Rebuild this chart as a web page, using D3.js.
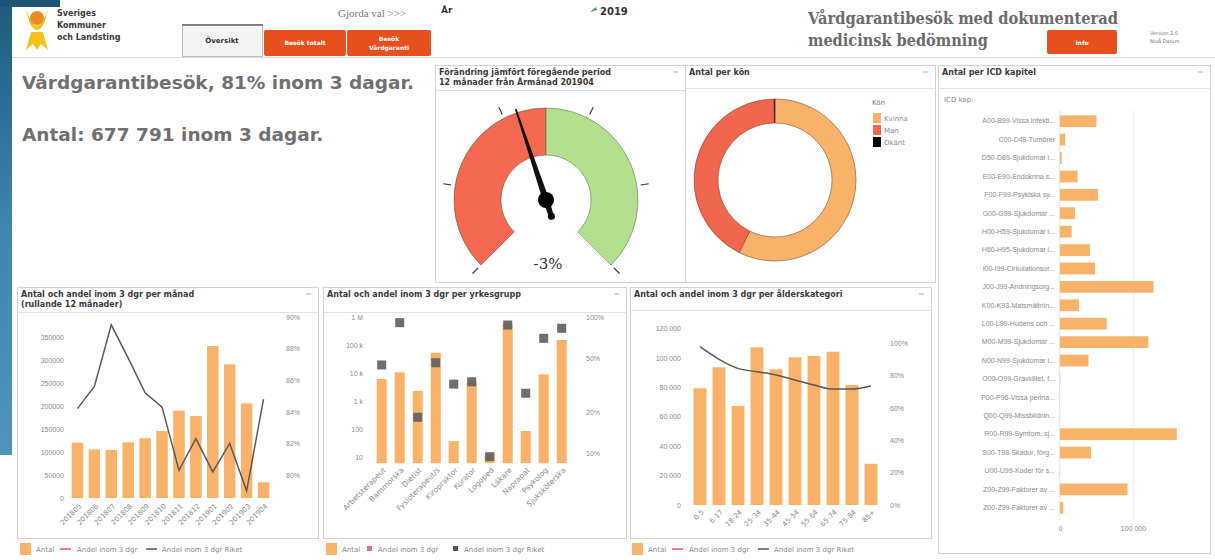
<!DOCTYPE html>
<html>
<head>
<meta charset="utf-8">
<script src="https://cdn.jsdelivr.net/npm/d3@7"></script>
<style>
body { margin: 0; background: #fff; }
svg { display: block; font-family: "DejaVu Sans", sans-serif; }
.axis text { fill: #8a8a8a; font-size: 7px; }
.ptitle { fill: #3a3a3a; font-size: 8px; font-weight: bold; }
.leg { fill: #8a8a8a; font-size: 7px; }
</style>
</head>
<body>
<svg id="svg" width="1215" height="560"></svg>
<script>
// ---- data ----
const monthLabels = ["201805", "201806", "201807", "201808", "201809", "201810", "201811", "201812", "201901", "201902", "201903", "201904"];
const monthAntal = [120200, 105800, 104300, 121000, 129800, 145600, 189800, 178300, 330400, 290600, 205800, 34100];
const monthAndelRiket = [84.2, 85.6, 89.5, 87.4, 85.2, 84.3, 80.3, 82.3, 80.2, 82.0, 79.0, 84.8];
const monthLeftTicks = [0, 50000, 100000, 150000, 200000, 250000, 300000, 350000];
const monthRightTicks = [80, 82, 84, 86, 88, 90];

const yrkeLabels = ["Arbetsterapeut", "Barnmorska", "Dietist", "Fysioterapeut/s", "Kiropraktor", "Kurator", "Logoped", "Läkare", "Naprapat", "Psykolog", "Sjuksköterska"];
const yrkeAntal = [6100, 10600, 2280, 53000, 37, 4900, 13, 550000, 85, 8900, 150000];
const yrkeAndelRiket = [44.4, 90.8, 18.3, 46.1, 32.1, 33.4, 9.4, 87.3, 27.5, 69.7, 82.6];
const yrkeLeftTicks = [10, 100, 1000, 10000, 100000, 1000000];
const yrkeLeftTickLabels = ["10", "100", "1 k", "10 k", "100 k", "1 M"];
const yrkeRightTicks = [10, 20, 50, 100];

const aldLabels = ["0-5", "6-17", "18-24", "25-34", "35-44", "45-54", "55-64", "65-74", "75-84", "85+"];
const aldAntal = [79250, 93500, 67200, 107100, 92200, 100300, 101200, 104100, 81500, 28000];
const aldAndelRiket = [97.9, 90.1, 84.5, 82.4, 80.4, 77.3, 74.2, 71.7, 71.7, 73.6];
const aldLeftTicks = [0, 20000, 40000, 60000, 80000, 100000, 120000];
const aldRightTicks = [0, 20, 40, 60, 80, 100];

const icdLabels = ["A00-B99-Vissa infekti...", "C00-D48-Tumörer", "D50-D89-Sjukdomar i...", "E00-E90-Endokrina s...", "F00-F99-Psykiska sy...", "G00-G99-Sjukdomar ...", "H00-H59-Sjukdomar i...", "H60-H95-Sjukdomar i...", "I00-I99-Cirkulationsor...", "J00-J99-Andningsorg...", "K00-K93-Matsmältnin...", "L00-L99-Hudens och ...", "M00-M99-Sjukdomar ...", "N00-N99-Sjukdomar i...", "O00-O99-Graviditet, f...", "P00-P96-Vissa perina...", "Q00-Q99-Missbildnin...", "R00-R99-Symtom, sj...", "S00-T98-Skador, förg...", "U00-U99-Koder för s...", "Z00-Z99-Faktorer av ...", "Z00-Z99-Faktorer av ..."];
const icdAntal = [50000, 7000, 2500, 24000, 52000, 20500, 16000, 41000, 48000, 128000, 26000, 64000, 121000, 39000, 500, 200, 300, 160000, 42500, 300, 92500, 4500];
const icdTicks = [0, 100000];

const konLabels = ["Kvinna", "Man", "Okänt"];
const konAndel = [57.3, 42.5, 0.2];

const gaugeValue = -3;
const gaugeMin = -22, gaugeMax = 22;

const orange = "#F8B26A";
const sv = d3.formatLocale({ decimal: ",", thousands: " ", grouping: [3], currency: ["", " kr"] });

let svg = d3.select("#svg");

// ---- background strip + header ----
let grad = svg.append("defs").append("linearGradient").attr("id", "blue").attr("x1", 0).attr("y1", 0).attr("x2", 0).attr("y2", 1);
grad.append("stop").attr("offset", "0%").attr("stop-color", "#1f5b7d");
grad.append("stop").attr("offset", "50%").attr("stop-color", "#3d86ad");
grad.append("stop").attr("offset", "100%").attr("stop-color", "#4f95bb");
svg.append("rect").attr("x", 0).attr("y", 0).attr("width", 12).attr("height", 455).attr("fill", "url(#blue)");
svg.append("rect").attr("x", 0).attr("y", 0).attr("width", 60).attr("height", 7).attr("fill", "#1d5576");

// logo
svg.append("path").attr("d", "M26 9 Q37 42 48 9 Q44 30 37 30 Q30 30 26 9Z").attr("fill", "#F5C21B");
svg.append("circle").attr("cx", 37).attr("cy", 18).attr("r", 7).attr("fill", "#EE8A22");
svg.append("path").attr("d", "M31 32 L43 32 L48 50 L41 44 L37 50 L33 44 L26 50Z").attr("fill", "#F5C21B");
["Sveriges", "Kommuner", "och Landsting"].forEach((t, i) => {
    svg.append("text").attr("x", 57).attr("y", 16 + i * 12).style("font-size", "8px").style("fill", "#3a3a3a").style("font-weight", "bold").text(t);
});

// tabs
svg.append("rect").attr("x", 182.5).attr("y", 24.5).attr("width", 80).attr("height", 32).attr("fill", "#f4f4f4").attr("stroke", "#bcbcbc");
svg.append("line").attr("x1", 182).attr("x2", 263).attr("y1", 25).attr("y2", 25).attr("stroke", "#666").attr("stroke-width", 1.5);
svg.append("text").attr("x", 222).attr("y", 43).attr("text-anchor", "middle").style("font-size", "7px").style("font-weight", "bold").style("fill", "#333").text("Översikt");
svg.append("rect").attr("x", 264).attr("y", 30).attr("width", 82).attr("height", 26).attr("rx", 2).attr("fill", "#E5501C");
svg.append("text").attr("x", 305).attr("y", 45).attr("text-anchor", "middle").style("font-size", "6px").style("font-weight", "bold").style("fill", "#fff").text("Besök totalt");
svg.append("rect").attr("x", 347).attr("y", 30).attr("width", 84).attr("height", 26).attr("rx", 2).attr("fill", "#E5501C");
svg.append("text").attr("x", 389).attr("y", 41).attr("text-anchor", "middle").style("font-size", "6px").style("font-weight", "bold").style("fill", "#fff").text("Besök");
svg.append("text").attr("x", 389).attr("y", 50).attr("text-anchor", "middle").style("font-size", "6px").style("font-weight", "bold").style("fill", "#fff").text("Vårdgaranti");

svg.append("text").attr("x", 338).attr("y", 17).style("font-family", "'Liberation Serif', serif").style("font-size", "11px").style("fill", "#777").text("Gjorda val >>>");
svg.append("text").attr("x", 441).attr("y", 13).style("font-size", "9px").style("font-weight", "bold").style("fill", "#333").text("År");
svg.append("path").attr("d", "M590 12 L596 7 L597 10Z").attr("fill", "#3aa64a");
svg.append("text").attr("x", 600).attr("y", 15).style("font-size", "10px").style("font-weight", "bold").style("fill", "#333").text("2019");

svg.append("text").attr("x", 808).attr("y", 24).attr("textLength", 310).attr("lengthAdjust", "spacingAndGlyphs")
    .style("font-family", "'DejaVu Serif', serif").style("font-size", "16px").style("font-weight", "bold").style("fill", "#6b6b6b").text("Vårdgarantibesök med dokumenterad");
svg.append("text").attr("x", 808).attr("y", 46).attr("textLength", 180).attr("lengthAdjust", "spacingAndGlyphs")
    .style("font-family", "'DejaVu Serif', serif").style("font-size", "16px").style("font-weight", "bold").style("fill", "#6b6b6b").text("medicinsk bedömning");
svg.append("rect").attr("x", 1047).attr("y", 30).attr("width", 70).attr("height", 24).attr("rx", 2).attr("fill", "#E5501C");
svg.append("text").attr("x", 1082).attr("y", 45).attr("text-anchor", "middle").style("font-size", "6px").style("font-weight", "bold").style("fill", "#fff").text("Info");
svg.append("text").attr("x", 1150).attr("y", 35).style("font-size", "5px").style("fill", "#777").text("Version 2.0");
svg.append("text").attr("x", 1150).attr("y", 43).style("font-size", "5px").style("fill", "#777").text("Nivå Datum");
svg.append("line").attr("x1", 12).attr("x2", 1215).attr("y1", 57.5).attr("y2", 57.5).attr("stroke", "#dcdcdc");

// key figures
svg.append("text").attr("x", 22).attr("y", 89).style("font-size", "18.5px").style("font-weight", "bold").style("fill", "#707070").text("Vårdgarantibesök, 81% inom 3 dagar.");
svg.append("text").attr("x", 22).attr("y", 141).style("font-size", "18.5px").style("font-weight", "bold").style("fill", "#707070").text("Antal: 677 791 inom 3 dagar.");

// ---- panel helper ----
function panel(x, y, w, h, titles, titleH) {
    let g = svg.append("g");
    g.append("rect").attr("x", x + 0.5).attr("y", y + 0.5).attr("width", w).attr("height", h).attr("fill", "#fff").attr("stroke", "#d2d2d2");
    g.append("line").attr("x1", x + 1).attr("x2", x + w).attr("y1", y + titleH + 0.5).attr("y2", y + titleH + 0.5).attr("stroke", "#e2e2e2");
    titles.forEach((t, i) => {
        g.append("text").attr("class", "ptitle").attr("x", x + 4).attr("y", y + 10 + i * 10).text(t);
    });
    g.append("line").attr("x1", x + w - 12).attr("x2", x + w - 7).attr("y1", y + 7).attr("y2", y + 7).attr("stroke", "#aaa");
    return g;
}

function legend(x, kind2) {
    let g = svg.append("g");
    g.append("rect").attr("x", x).attr("y", 543).attr("width", 11).attr("height", 12).attr("fill", orange);
    g.append("text").attr("class", "leg").attr("x", x + 16).attr("y", 552).text("Antal");
    if (kind2 === "line") {
        g.append("line").attr("x1", x + 40).attr("x2", x + 51).attr("y1", 549).attr("y2", 549).attr("stroke", "#e0555a").attr("stroke-width", 1.5);
        g.append("text").attr("class", "leg").attr("x", x + 57).attr("y", 552).text("Andel inom 3 dgr");
        g.append("line").attr("x1", x + 126).attr("x2", x + 137).attr("y1", 549).attr("y2", 549).attr("stroke", "#555").attr("stroke-width", 1.5);
        g.append("text").attr("class", "leg").attr("x", x + 142).attr("y", 552).text("Andel inom 3 dgr Riket");
    } else {
        g.append("rect").attr("x", x + 41).attr("y", 546).attr("width", 5).attr("height", 5).attr("fill", "#e06a8a");
        g.append("text").attr("class", "leg").attr("x", x + 52).attr("y", 552).text("Andel inom 3 dgr");
        g.append("rect").attr("x", x + 127).attr("y", 546).attr("width", 5).attr("height", 5).attr("fill", "#555");
        g.append("text").attr("class", "leg").attr("x", x + 138).attr("y", 552).text("Andel inom 3 dgr Riket");
    }
}

function cleanAxis(sel) {
    sel.select(".domain").remove();
    sel.selectAll(".tick line").remove();
}

// ---- gauge ----
panel(435, 65, 250, 217, ["Förändring jämfört föregående period", "12 månader från Årmånad 201904"], 25);
const gcx = 546, gcy = 200;
const rad = d => d * Math.PI / 180;
const gaugeScale = d3.scaleLinear().domain([gaugeMin, gaugeMax]).range([-135, 135]);
const gArc = d3.arc().innerRadius(45).outerRadius(92);
let gg = svg.append("g").attr("transform", `translate(${gcx},${gcy})`);
gg.append("path").attr("d", gArc({ startAngle: rad(gaugeScale(gaugeMin)), endAngle: rad(gaugeScale(0)) })).attr("fill", "#F4694F").attr("stroke", "#7a4a3a").attr("stroke-width", 0.6);
gg.append("path").attr("d", gArc({ startAngle: rad(gaugeScale(0)), endAngle: rad(gaugeScale(gaugeMax)) })).attr("fill", "#B4DF8E").attr("stroke", "#5d7a4a").attr("stroke-width", 0.6);
d3.range(6).forEach(i => {
    let a = rad(-135 + i * 54);
    gg.append("line").attr("x1", 96 * Math.sin(a)).attr("y1", -96 * Math.cos(a)).attr("x2", 104 * Math.sin(a)).attr("y2", -104 * Math.cos(a))
        .attr("stroke", "#333").attr("stroke-width", 1.2);
});
{
    let a = rad(gaugeScale(gaugeValue));
    let s = Math.sin(a), c = Math.cos(a);
    let pt = (r, off) => [r * s + off * c, -r * c + off * s];
    let pts = [pt(96, -0.8), pt(96, 0.8), pt(0, 3.2), pt(-20, 2.4), pt(-20, -2.4), pt(0, -3.2)];
    gg.append("polygon").attr("points", pts.map(p => p.join(",")).join(" ")).attr("fill", "#111");
    gg.append("circle").attr("cx", 0).attr("cy", 0).attr("r", 8).attr("fill", "#000");
    let t = pt(-17, 0);
    gg.append("circle").attr("cx", t[0]).attr("cy", t[1]).attr("r", 3.5).attr("fill", "#000");
}
svg.append("text").attr("x", gcx + 2).attr("y", 269).attr("text-anchor", "middle").style("font-family", "'DejaVu Serif', serif").style("font-size", "15px").style("fill", "#333").text(gaugeValue + "%");

// ---- donut ----
panel(685, 65, 250, 217, ["Antal per kön"], 23);
const pie = d3.pie().sort(null).value(d => d)(konAndel);
const konColors = [orange, "#F0664F", "#000"];
const dArc = d3.arc().innerRadius(57).outerRadius(81);
let dg = svg.append("g").attr("transform", "translate(775,180)");
dg.selectAll("path").data(pie).join("path").attr("d", dArc).attr("fill", (d, i) => konColors[i]).attr("stroke", "#7a4a2a").attr("stroke-width", 0.6);
svg.append("text").attr("x", 872).attr("y", 105).style("font-size", "7px").style("fill", "#6a7f9a").text("Kön");
konLabels.forEach((k, i) => {
    svg.append("rect").attr("x", 873).attr("y", 113 + i * 12).attr("width", 8).attr("height", 10).attr("fill", konColors[i]);
    svg.append("text").attr("x", 884).attr("y", 121 + i * 12).style("font-size", "7px").style("fill", "#8a8a8a").text(k);
});

// ---- ICD ----
panel(938, 65, 272, 488, ["Antal per ICD kapitel"], 23);
svg.append("text").attr("x", 944).attr("y", 102).style("font-size", "7px").style("fill", "#8a8a8a").text("ICD kap.");
const icdIdx = d3.range(icdLabels.length);
const icdY = d3.scaleBand().domain(icdIdx).range([112, 517]).paddingInner(0.36).paddingOuter(0.18);
const icdX = d3.scaleLinear().domain([0, 100000]).range([1060, 1133]);
svg.append("line").attr("x1", icdX(100000) + 0.5).attr("x2", icdX(100000) + 0.5).attr("y1", 110).attr("y2", 520).attr("stroke", "#eeeeee");
svg.append("line").attr("x1", icdX(0) - 0.5).attr("x2", icdX(0) - 0.5).attr("y1", 110).attr("y2", 520).attr("stroke", "#e6e6e6");
svg.append("g").selectAll("rect").data(icdAntal).join("rect")
    .attr("x", icdX(0)).attr("y", (d, i) => icdY(i))
    .attr("width", d => icdX(d) - icdX(0)).attr("height", icdY.bandwidth()).attr("fill", orange);
let icdAxisY = svg.append("g").attr("class", "axis").attr("transform", `translate(${icdX(0) - 3},0)`)
    .call(d3.axisLeft(icdY).tickSize(0).tickPadding(2).tickFormat(i => icdLabels[i]));
cleanAxis(icdAxisY);
let icdAxisX = svg.append("g").attr("class", "axis").attr("transform", "translate(0,522)")
    .call(d3.axisBottom(icdX).tickValues(icdTicks).tickSize(0).tickPadding(4).tickFormat(sv.format(",")));
cleanAxis(icdAxisX);

// ---- per month ----
panel(17, 287, 301, 251, ["Antal och andel inom 3 dgr per månad", "(rullande 12 månader)"], 25);
const mX = d3.scaleBand().domain(monthLabels).range([69, 272]).paddingInner(0.32).paddingOuter(0.16);
const mY = d3.scaleLinear().domain([0, 350000]).range([498, 337]);
const mY2 = d3.scaleLinear().domain([80, 90]).range([475, 317]);
svg.append("g").selectAll("rect").data(monthAntal).join("rect")
    .attr("x", (d, i) => mX(monthLabels[i])).attr("y", d => mY(d))
    .attr("width", mX.bandwidth()).attr("height", d => mY(0) - mY(d)).attr("fill", orange);
svg.append("path").datum(monthAndelRiket)
    .attr("d", d3.line().x((d, i) => mX(monthLabels[i]) + mX.bandwidth() / 2).y(d => mY2(d)))
    .attr("fill", "none").attr("stroke", "#5a5a5a").attr("stroke-width", 1.5);
let mAxL = svg.append("g").attr("class", "axis").attr("transform", "translate(66,0)")
    .call(d3.axisLeft(mY).tickValues(monthLeftTicks).tickSize(0).tickPadding(2).tickFormat(d3.format("d")));
cleanAxis(mAxL);
let mAxR = svg.append("g").attr("class", "axis").attr("transform", "translate(284,0)")
    .call(d3.axisRight(mY2).tickValues(monthRightTicks).tickSize(0).tickPadding(2).tickFormat(d => d + "%"));
cleanAxis(mAxR);
svg.append("g").attr("class", "axis").selectAll("text").data(monthLabels).join("text")
    .attr("transform", d => `translate(${mX(d) + mX.bandwidth() / 2 + 3},${505}) rotate(-45)`)
    .attr("text-anchor", "end").attr("dy", "0.3em").text(d => d);
legend(20, "line");

// ---- per yrkesgrupp ----
panel(323, 287, 303, 251, ["Antal och andel inom 3 dgr per yrkesgrupp"], 25);
const yX = d3.scaleBand().domain(yrkeLabels).range([372.7, 570.7]).paddingInner(0.44).paddingOuter(0.22);
const yY = d3.scaleLog().domain([10, 1000000]).range([457, 317]);
const yY2 = d3.scaleLog().domain([10, 100]).range([453, 317]);
const yBase = 6;
svg.append("g").selectAll("rect").data(yrkeAntal).join("rect")
    .attr("x", (d, i) => yX(yrkeLabels[i])).attr("y", d => yY(d))
    .attr("width", yX.bandwidth()).attr("height", d => yY(yBase) - yY(d)).attr("fill", orange);
svg.append("g").selectAll("rect").data(yrkeAndelRiket).join("rect")
    .attr("x", (d, i) => yX(yrkeLabels[i]) + yX.bandwidth() / 2 - 4.5).attr("y", d => yY2(d) - 4.5)
    .attr("width", 9).attr("height", 9).attr("fill", "#5e5e5e").attr("opacity", 0.9);
let yAxL = svg.append("g").attr("class", "axis").attr("transform", "translate(365,0)")
    .call(d3.axisLeft(yY).tickValues(yrkeLeftTicks).tickSize(0).tickPadding(2).tickFormat((d, i) => yrkeLeftTickLabels[i]));
cleanAxis(yAxL);
let yAxR = svg.append("g").attr("class", "axis").attr("transform", "translate(584,0)")
    .call(d3.axisRight(yY2).tickValues(yrkeRightTicks).tickSize(0).tickPadding(2).tickFormat(d => d + "%"));
cleanAxis(yAxR);
svg.append("g").attr("class", "axis").selectAll("text").data(yrkeLabels).join("text")
    .attr("transform", d => `translate(${yX(d) + yX.bandwidth() / 2 + 3},${469}) rotate(-45)`)
    .attr("text-anchor", "end").attr("dy", "0.3em").style("font-size", "7.5px").text(d => d);
legend(326, "square");

// ---- per ålderskategori ----
panel(630, 287, 301, 251, ["Antal och andel inom 3 dgr per ålderskategori"], 23);
const aX = d3.scaleBand().domain(aldLabels).range([690.5, 880.5]).paddingInner(0.32).paddingOuter(0.16);
const aY = d3.scaleLinear().domain([0, 120000]).range([505, 328.3]);
const aY2 = d3.scaleLinear().domain([0, 100]).range([505, 343.3]);
svg.append("g").selectAll("rect").data(aldAntal).join("rect")
    .attr("x", (d, i) => aX(aldLabels[i])).attr("y", d => aY(d))
    .attr("width", aX.bandwidth()).attr("height", d => aY(0) - aY(d)).attr("fill", orange);
svg.append("path").datum(aldAndelRiket)
    .attr("d", d3.line().curve(d3.curveMonotoneX).x((d, i) => aX(aldLabels[i]) + aX.bandwidth() / 2).y(d => aY2(d)))
    .attr("fill", "none").attr("stroke", "#5a5a5a").attr("stroke-width", 1.5);
let aAxL = svg.append("g").attr("class", "axis").attr("transform", "translate(683,0)")
    .call(d3.axisLeft(aY).tickValues(aldLeftTicks).tickSize(0).tickPadding(2).tickFormat(sv.format(",")));
cleanAxis(aAxL);
let aAxR = svg.append("g").attr("class", "axis").attr("transform", "translate(888,0)")
    .call(d3.axisRight(aY2).tickValues(aldRightTicks).tickSize(0).tickPadding(2).tickFormat(d => d + "%"));
cleanAxis(aAxR);
svg.append("g").attr("class", "axis").selectAll("text").data(aldLabels).join("text")
    .attr("transform", d => `translate(${aX(d) + aX.bandwidth() / 2 + 3},${511}) rotate(-45)`)
    .attr("text-anchor", "end").attr("dy", "0.3em").text(d => d);
legend(632, "line");
</script>
</body>
</html>
